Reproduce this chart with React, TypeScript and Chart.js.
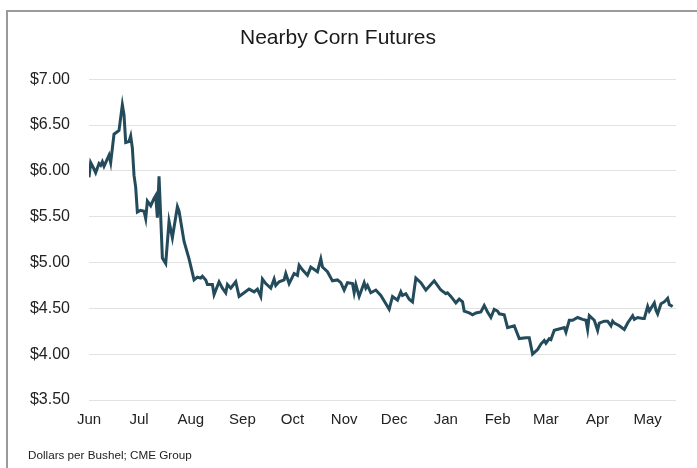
import React, { useEffect, useRef } from "react";
import { Chart, registerables } from "chart.js";

Chart.register(...registerables);

// Days since June 1 (trading days)
const days: number[] = [
  0, 1, 3, 4, 6, 7, 8, 9, 10, 12, 13, 15, 18, 20, 21, 22, 24, 25, 26, 27, 28, 29,
  31, 33, 34, 35, 37, 39, 40, 41, 42, 43, 44, 46, 48, 50, 53, 54, 57, 60, 63, 65,
  67, 68, 70, 71, 74, 75, 78, 80, 82, 83, 85, 88, 90, 93, 96, 99, 101, 103, 104,
  106, 109, 111, 112, 114, 117, 118, 120, 123, 125, 126, 128, 131, 133, 137, 139,
  140, 143, 146, 149, 151, 153, 155, 158, 159, 160, 162, 165, 166, 167, 169, 172,
  175, 180, 182, 185, 187, 188, 190, 192, 194, 196, 199, 202, 207, 211, 214, 215,
  217, 220, 222, 224, 225, 228, 230, 232, 235, 237, 239, 241, 243, 245, 246, 249,
  251, 255, 258, 262, 264, 266, 269, 271, 273, 274, 276, 277, 279, 283, 285, 286,
  288, 290, 293, 296, 298, 299, 300, 303, 305, 306, 309, 311, 313, 314, 315, 318,
  321, 323, 326, 327, 329, 332, 333, 335, 336, 339, 340, 341, 343, 345, 347, 348,
  350,
];

// Nearby corn futures, dollars per bushel
const prices: number[] = [
  5.93, 6.09, 6.02, 5.98, 6.08, 6.06, 6.1, 6.05, 6.09, 6.17, 6.09, 6.4, 6.44, 6.72,
  6.61, 6.31, 6.32, 6.38, 6.25, 5.95, 5.82, 5.55, 5.57, 5.56, 5.48, 5.67, 5.62,
  5.7, 5.73, 5.49, 5.94, 5.5, 5.05, 4.99, 5.45, 5.27, 5.61, 5.56, 5.23, 5.04, 4.81,
  4.84, 4.83, 4.85, 4.81, 4.76, 4.76, 4.65, 4.79, 4.72, 4.67, 4.76, 4.72, 4.79,
  4.63, 4.67, 4.71, 4.68, 4.71, 4.63, 4.82, 4.77, 4.72, 4.82, 4.75, 4.79, 4.81,
  4.88, 4.77, 4.88, 4.86, 4.97, 4.92, 4.86, 4.95, 4.9, 5.04, 4.95, 4.9, 4.8, 4.81,
  4.78, 4.7, 4.78, 4.77, 4.67, 4.76, 4.63, 4.78, 4.72, 4.75, 4.67, 4.7, 4.64, 4.49,
  4.63, 4.59, 4.68, 4.64, 4.66, 4.6, 4.57, 4.83, 4.78, 4.7, 4.8, 4.7, 4.66, 4.67,
  4.63, 4.56, 4.6, 4.57, 4.47, 4.45, 4.43, 4.45, 4.46, 4.53, 4.46, 4.4, 4.49, 4.47,
  4.44, 4.43, 4.29, 4.31, 4.17, 4.18, 4.18, 4.0, 4.05, 4.11, 4.15, 4.12, 4.17, 4.16,
  4.26, 4.28, 4.29, 4.24, 4.37, 4.37, 4.4, 4.38, 4.37, 4.27, 4.42, 4.37, 4.26, 4.34,
  4.36, 4.36, 4.31, 4.36, 4.34, 4.31, 4.27, 4.34, 4.42, 4.38, 4.4, 4.39, 4.39, 4.52,
  4.47, 4.56, 4.48, 4.44, 4.55, 4.57, 4.61, 4.54, 4.52,
];

const monthDays: number[] = [0, 30, 61, 92, 122, 153, 183, 214, 245, 274, 305, 335];
const monthLabels: string[] = [
  "Jun", "Jul", "Aug", "Sep", "Oct", "Nov", "Dec", "Jan", "Feb", "Mar", "Apr", "May",
];

const FONT = "'Liberation Sans', Arial, sans-serif";

export default function App() {
  const canvasRef = useRef<HTMLCanvasElement | null>(null);

  useEffect(() => {
    const canvas = canvasRef.current;
    if (!canvas) return;
    const points = days.map((d, i) => ({ x: d, y: prices[i] }));
    const chart = new Chart(canvas, {
      type: "line",
      data: {
        datasets: [
          {
            data: points,
            borderColor: "#234b5b",
            borderWidth: 3,
            pointRadius: 0,
            tension: 0,
            fill: false,
          },
        ],
      },
      options: {
        animation: false,
        responsive: false,
        maintainAspectRatio: false,
        layout: { padding: { left: 0, right: 21, top: 0, bottom: 28 } },
        plugins: {
          legend: { display: false },
          tooltip: { enabled: false },
          title: {
            display: true,
            text: "Nearby Corn Futures",
            color: "#1a1a1a",
            font: { family: FONT, size: 21, weight: "normal" },
            padding: { top: 26, bottom: 28 },
          },
        },
        scales: {
          x: {
            type: "linear",
            min: 0,
            max: 352,
            grid: { display: false, drawTicks: false },
            border: { display: false },
            afterBuildTicks: (axis: any) => {
              axis.ticks = monthDays.map((v) => ({ value: v }));
            },
            ticks: {
              autoSkip: false,
              maxRotation: 0,
              padding: 11,
              color: "#222",
              font: { family: FONT, size: 15 },
              callback: (_v: any, i: number) => monthLabels[i],
            },
          },
          y: {
            min: 3.5,
            max: 7,
            afterFit: (axis: any) => {
              axis.width = 89;
            },
            grid: { color: "#e2e2e2", lineWidth: 1, drawTicks: false },
            border: { display: false },
            ticks: {
              stepSize: 0.5,
              padding: 19,
              color: "#222",
              font: { family: FONT, size: 16 },
              callback: (v: any) => "$" + Number(v).toFixed(2),
            },
          },
        },
      },
    });
    return () => chart.destroy();
  }, []);

  return (
    <div>
      <div
        style={{
          position: "absolute",
          left: 6,
          top: 10,
          width: 689,
          height: 456,
          borderLeft: "2px solid #9a9a9a",
          borderTop: "2px solid #9a9a9a",
        }}
      />
      <canvas
        ref={canvasRef}
        width={697}
        height={468}
        style={{ position: "absolute", left: 0, top: 0, display: "block" }}
      />
      <div
        style={{
          position: "absolute",
          left: 28,
          top: 448,
          fontFamily: FONT,
          fontSize: 11.7,
          color: "#222",
          whiteSpace: "nowrap",
          lineHeight: "14px",
        }}
      >
        Dollars per Bushel; CME Group
      </div>
    </div>
  );
}
